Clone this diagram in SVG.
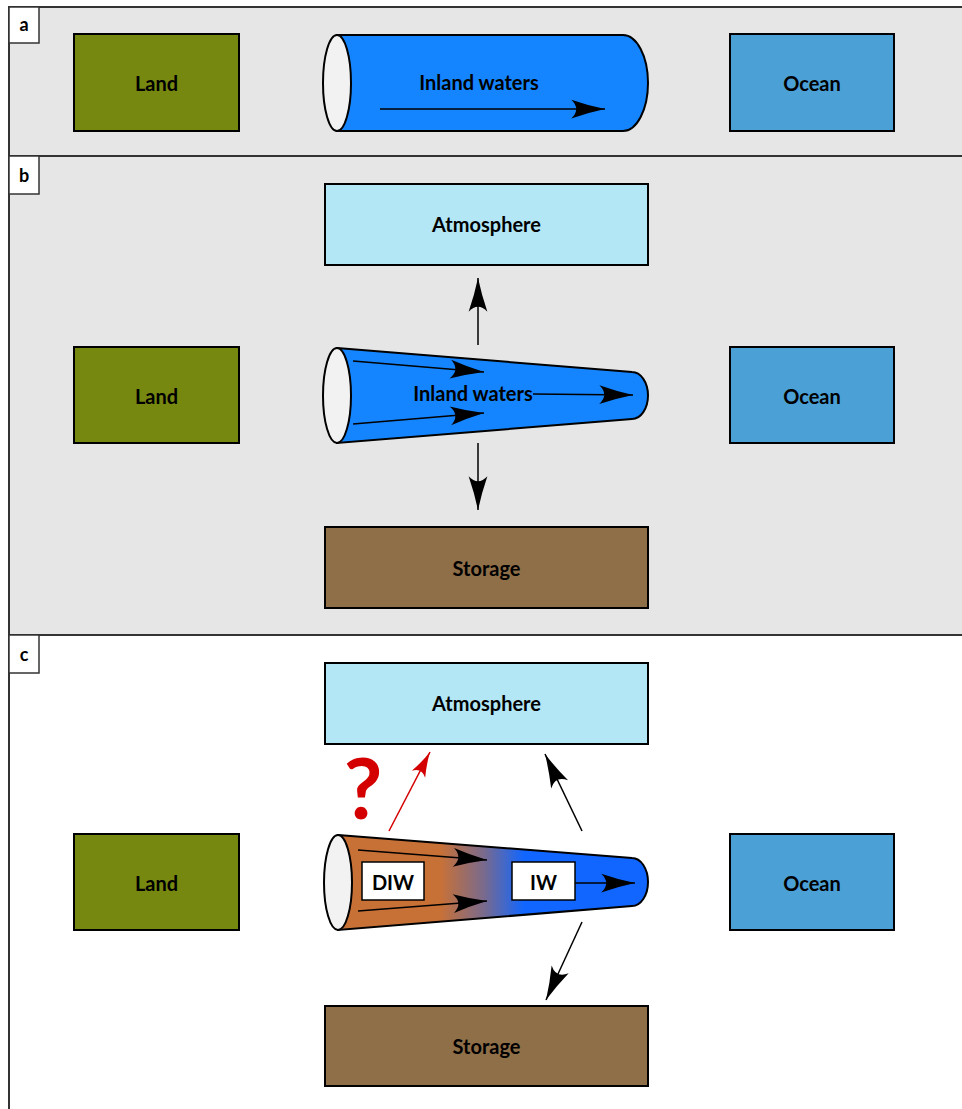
<svg xmlns="http://www.w3.org/2000/svg" width="962" height="1109" viewBox="0 0 962 1109">
<style>
text{font-family:Lato,"Liberation Sans",sans-serif;font-weight:bold;fill:#000;text-anchor:middle;dominant-baseline:central}
.lbl{font-size:18px}
.t{font-size:20px}
.box{stroke:#000;stroke-width:2}
.panel{stroke:#333;stroke-width:2}
.lab{fill:#fff;stroke:#333;stroke-width:1.5}
.ln{stroke:#000;stroke-width:1.5;fill:none;marker-end:url(#ah)}
.red{stroke:#d40000;stroke-width:1.5;fill:none;marker-end:url(#ahr)}
</style>
<defs>
<marker id="ah" markerUnits="userSpaceOnUse" markerWidth="40" markerHeight="30" viewBox="-30 -10 32 20" refX="0" refY="0" orient="auto">
<path d="M0,0 Q-14,-3 -27,-7.5 Q-19,0 -27,7.5 Q-14,3 0,0 Z" fill="#000"/>
</marker>
<marker id="ahr" markerUnits="userSpaceOnUse" markerWidth="40" markerHeight="30" viewBox="-30 -10 32 20" refX="0" refY="0" orient="auto">
<path d="M0,0 Q-10,-2 -20,-6 Q-14,0 -20,6 Q-10,2 0,0 Z" fill="#d40000"/>
</marker>
<linearGradient id="grad" gradientUnits="userSpaceOnUse" x1="338" y1="0" x2="648" y2="0">
<stop offset="0" stop-color="#c87137"/>
<stop offset="0.33" stop-color="#c87137"/>
<stop offset="0.47" stop-color="#7a6a8c"/>
<stop offset="0.6" stop-color="#1166ff"/>
<stop offset="1" stop-color="#1166ff"/>
</linearGradient>
</defs>

<g id="panels">
<rect class="panel" x="9" y="7" width="970" height="149" fill="#e6e6e6"/>
<rect class="panel" x="9" y="156" width="970" height="479" fill="#e6e6e6"/>
<rect class="panel" x="9" y="635" width="970" height="490" fill="#fff"/>
<rect class="lab" x="9" y="7" width="30" height="36"/>
<text class="lbl" x="24" y="24">a</text>
<rect class="lab" x="9" y="156" width="30" height="38"/>
<text class="lbl" x="24" y="175">b</text>
<rect class="lab" x="9" y="635" width="30" height="38"/>
<text class="lbl" x="24" y="654">c</text>
</g>

<g id="a-land"><rect class="box" x="74" y="34" width="165" height="97" fill="#778811"/><text class="t" x="156.5" y="82.5">Land</text></g>
<g id="a-inland">
<path class="box" d="M337,35 L623,35 A25,48 0 0 1 623,131 L337,131 Z" fill="#1485ff"/>
<ellipse class="box" cx="337" cy="83" rx="14" ry="48" fill="#f2f2f2"/>
<text class="t" x="479" y="82">Inland waters</text>
</g>
<g id="a-ocean"><rect class="box" x="730" y="34" width="164" height="97" fill="#4ba0d6"/><text class="t" x="812" y="82.5">Ocean</text></g>

<g id="b-atm"><rect class="box" x="325" y="184" width="323" height="81" fill="#b3e7f6"/><text class="t" x="486.5" y="224">Atmosphere</text></g>
<g id="b-land"><rect class="box" x="74" y="347" width="165" height="96" fill="#778811"/><text class="t" x="156.5" y="395.5">Land</text></g>
<g id="b-inland">
<path class="box" d="M337,348 L632,372 A16,23.5 0 0 1 632,419 L337,443 Z" fill="#1485ff"/>
<ellipse class="box" cx="337" cy="395.5" rx="14" ry="47.5" fill="#f2f2f2"/>
<text class="t" x="473" y="393">Inland waters</text>
</g>
<g id="b-ocean"><rect class="box" x="730" y="347" width="164" height="96" fill="#4ba0d6"/><text class="t" x="812" y="395.5">Ocean</text></g>
<g id="b-storage"><rect class="box" x="325" y="527" width="323" height="81" fill="#8f6f48"/><text class="t" x="486.5" y="568">Storage</text></g>

<g id="c-atm"><rect class="box" x="325" y="663" width="323" height="81" fill="#b3e7f6"/><text class="t" x="486.5" y="703">Atmosphere</text></g>
<g id="c-land"><rect class="box" x="74" y="834" width="165" height="96" fill="#778811"/><text class="t" x="156.5" y="882.5">Land</text></g>
<g id="c-inland">
<path class="box" d="M338,835 L632,858 A16,24 0 0 1 632,906 L338,930 Z" fill="url(#grad)"/>
<ellipse class="box" cx="338" cy="882.5" rx="14" ry="47.5" fill="#f2f2f2"/>
</g>
<g id="c-diw"><rect x="362" y="862" width="62" height="38" fill="#fff" stroke="#000" stroke-width="1.5"/><text class="t" x="393" y="882">DIW</text></g>
<g id="c-iw"><rect x="512" y="862" width="63" height="38" fill="#fff" stroke="#000" stroke-width="1.5"/><text class="t" x="543.5" y="882">IW</text></g>
<g id="c-ocean"><rect class="box" x="730" y="834" width="164" height="96" fill="#4ba0d6"/><text class="t" x="812" y="882.5">Ocean</text></g>
<g id="c-storage"><rect class="box" x="325" y="1006" width="323" height="80" fill="#8f6f48"/><text class="t" x="486.5" y="1046">Storage</text></g>
<g id="c-question"><text x="363" y="786" style="font-size:84px;fill:#d40000">?</text></g>

<g id="connectors">
<path class="ln" d="M380,109 L605,109"/>
<path class="ln" d="M478,345 L478,278"/>
<path class="ln" d="M478,443 L478,510"/>
<path class="ln" d="M353,361 L484,372"/>
<path class="ln" d="M353,424 L484,413"/>
<path class="ln" d="M533,394 L633,395"/>
<path class="ln" d="M358,850 L487,860"/>
<path class="ln" d="M358,911 L487,901"/>
<path class="ln" d="M575,883 L635,883"/>
<path class="red" d="M389,831 L430,752"/>
<path class="ln" d="M582,831 L545,754"/>
<path class="ln" d="M582,922 L546,1000"/>
</g>
</svg>
